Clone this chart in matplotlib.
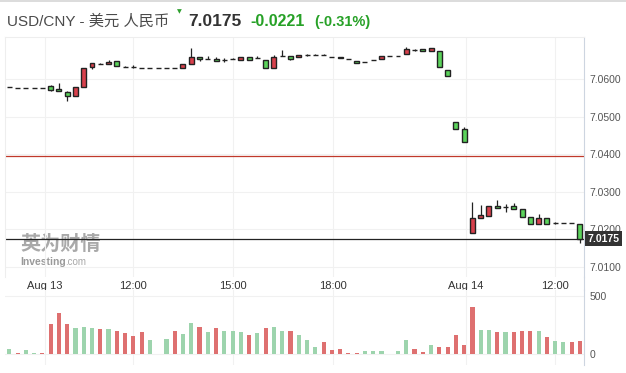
import numpy as np
import matplotlib.pyplot as plt
from matplotlib.lines import Line2D

# 15-minute candles, USD/CNY, Aug 13 - Aug 14
opens = [7.0580, 7.0577, 7.0577, 7.0577, 7.0577, 7.0583, 7.0574, 7.0567, 7.0557, 7.0581,
         7.0633, 7.0641, 7.0641, 7.0649, 7.0634, 7.0633, 7.0631, 7.0631, 7.0631, 7.0631,
         7.0631, 7.0631, 7.0641, 7.0659, 7.0655, 7.0655, 7.0652, 7.0654, 7.0651, 7.0661,
         7.0657, 7.0653, 7.0631, 7.0663, 7.0662, 7.0660, 7.0665, 7.0665, 7.0665, 7.0661,
         7.0661, 7.0654, 7.0650, 7.0647, 7.0651, 7.0655, 7.0663, 7.0663, 7.0667, 7.0679,
         7.0681, 7.0675, 7.0677, 7.0625, 7.0487, 7.0468, 7.0190, 7.0230, 7.0236, 7.0263,
         7.0261, 7.0263, 7.0254, 7.0234, 7.0214, 7.0230, 7.0217, 7.0217, 7.0217, 7.0215]
highs = [7.0581, 7.0577, 7.0577, 7.0577, 7.0577, 7.0585, 7.0591, 7.0568, 7.0581, 7.0630,
         7.0643, 7.0643, 7.0652, 7.0649, 7.0637, 7.0639, 7.0631, 7.0631, 7.0631, 7.0631,
         7.0631, 7.0641, 7.0685, 7.0659, 7.0662, 7.0660, 7.0657, 7.0658, 7.0661, 7.0661,
         7.0663, 7.0653, 7.0665, 7.0679, 7.0662, 7.0665, 7.0668, 7.0667, 7.0668, 7.0661,
         7.0661, 7.0654, 7.0650, 7.0647, 7.0651, 7.0663, 7.0663, 7.0663, 7.0687, 7.0682,
         7.0681, 7.0685, 7.0677, 7.0625, 7.0487, 7.0473, 7.0274, 7.0265, 7.0263, 7.0279,
         7.0268, 7.0271, 7.0254, 7.0234, 7.0241, 7.0230, 7.0219, 7.0217, 7.0217, 7.0215]
lows = [7.0580, 7.0577, 7.0577, 7.0577, 7.0577, 7.0569, 7.0569, 7.0543, 7.0557, 7.0581,
        7.0627, 7.0640, 7.0641, 7.0636, 7.0634, 7.0631, 7.0631, 7.0631, 7.0631, 7.0631,
        7.0631, 7.0631, 7.0641, 7.0650, 7.0655, 7.0650, 7.0646, 7.0654, 7.0651, 7.0653,
        7.0657, 7.0630, 7.0631, 7.0663, 7.0653, 7.0660, 7.0663, 7.0665, 7.0665, 7.0661,
        7.0657, 7.0654, 7.0644, 7.0647, 7.0651, 7.0655, 7.0663, 7.0663, 7.0667, 7.0677,
        7.0675, 7.0675, 7.0633, 7.0609, 7.0467, 7.0433, 7.0190, 7.0230, 7.0236, 7.0257,
        7.0247, 7.0254, 7.0234, 7.0215, 7.0214, 7.0214, 7.0215, 7.0217, 7.0217, 7.0165]
closes = [7.0580, 7.0577, 7.0577, 7.0577, 7.0577, 7.0572, 7.0569, 7.0555, 7.0581, 7.0630,
          7.0643, 7.0641, 7.0646, 7.0636, 7.0634, 7.0633, 7.0631, 7.0631, 7.0631, 7.0631,
          7.0631, 7.0641, 7.0659, 7.0654, 7.0655, 7.0650, 7.0652, 7.0654, 7.0661, 7.0653,
          7.0657, 7.0630, 7.0661, 7.0663, 7.0655, 7.0665, 7.0665, 7.0665, 7.0665, 7.0661,
          7.0657, 7.0654, 7.0644, 7.0647, 7.0651, 7.0663, 7.0663, 7.0663, 7.0681, 7.0679,
          7.0675, 7.0685, 7.0633, 7.0609, 7.0467, 7.0433, 7.0230, 7.0239, 7.0263, 7.0257,
          7.0261, 7.0254, 7.0234, 7.0215, 7.0230, 7.0214, 7.0217, 7.0217, 7.0217, 7.0175]
volumes = [46, 14, 37, 14, 14, 262, 353, 262, 225, 234,
           225, 219, 217, 202, 185, 160, 194, 125, 0, 134,
           202, 177, 268, 237, 191, 225, 202, 202, 194, 168,
           185, 225, 234, 202, 202, 168, 125, 63, 103, 40,
           46, 14, 14, 31, 26, 31, 0, 31, 125, 48,
           17, 83, 66, 60, 168, 83, 408, 211, 211, 194,
           194, 188, 197, 202, 202, 151, 117, 108, 103, 117]
# 1 = volume bar drawn green, 0 = red
vol_up = [1, 0, 1, 1, 0, 0, 0, 0, 1, 1,
          1, 0, 1, 0, 0, 0, 0, 1, 1, 1,
          0, 1, 1, 0, 1, 0, 1, 1, 1, 0,
          1, 0, 1, 1, 0, 1, 1, 1, 0, 0,
          0, 0, 0, 1, 1, 1, 1, 1, 1, 0,
          0, 1, 0, 0, 0, 0, 0, 1, 1, 0,
          1, 0, 0, 0, 1, 0, 1, 1, 0, 0]

time_pos = [4.3, 15.0, 27.05, 39.1, 55.2, 66.0]
time_labels = ['Aug 13', '12:00', '15:00', '18:00', 'Aug 14', '12:00']
price_ticks = [7.01, 7.02, 7.03, 7.04, 7.05, 7.06]
vol_ticks = [0, 500]
prev_close = 7.0396
last_price = 7.0175

W, H = 626, 373
fig = plt.figure(figsize=(W / 100, H / 100), dpi=100)
plt.rcParams['font.family'] = ['Liberation Sans', 'Noto Sans CJK SC', 'DejaVu Sans']


def px_axes(x0, y0, x1, y1):
    return fig.add_axes([x0 / W, 1 - y1 / H, (x1 - x0) / W, (y1 - y0) / H])


RED = '#d8404c'
GREEN = '#5bd35b'
GRID = '#f1f1f1'
LBL = '#555555'

ax = px_axes(5, 37, 584, 277)
axv = px_axes(5, 290, 584, 365)

x = np.arange(len(opens))
o = np.array(opens)
c = np.array(closes)

# candles
ax.vlines(x, lows, highs, color='#222222', lw=0.9, zorder=3)
body_col = [RED if cc > oo else (GREEN if cc < oo else '#222222') for oo, cc in zip(o, c)]
ax.bar(x, np.abs(c - o), bottom=np.minimum(o, c), width=0.6,
       color=body_col, edgecolor='#222222', linewidth=1.0, zorder=4)

ax.axhline(prev_close, color='#c0392b', lw=0.9, zorder=2)
ax.axhline(last_price, color='#222222', lw=0.9, zorder=2)

ax.set_xlim(-0.52, 69.49)
ax.set_ylim(7.00733, 7.07133)
ax.set_yticks(price_ticks)
ax.set_yticklabels(['%.4f' % v for v in price_ticks])
ax.yaxis.tick_right()
ax.tick_params(axis='y', length=0, pad=4, labelsize=7.5, labelcolor=LBL)
ax.set_xticks(time_pos)
ax.set_xticklabels(time_labels)
ax.tick_params(axis='x', length=0, pad=3, labelsize=8, labelcolor='#333333')
ax.grid(True, color=GRID, lw=0.8, zorder=0)
for s in ['left', 'top', 'bottom']:
    ax.spines[s].set_color('#eeeeee')
ax.spines['bottom'].set_visible(False)
ax.spines['right'].set_color('#cdd5e0')

# last price box
ax.text(1.006, last_price, '%.4f' % last_price, transform=ax.get_yaxis_transform(),
        ha='left', va='center', color='white', fontsize=7.5, fontweight='bold', zorder=10,
        bbox=dict(boxstyle='square,pad=0.25', fc='#333333', ec='none'), clip_on=False)

# watermark
ax.text(0.026, 0.113, '英为财情', transform=ax.transAxes, fontsize=14.5, fontweight='bold',
        color='#9a9a9a', alpha=0.85, family=['Noto Sans CJK SC'], zorder=1)
ax.text(0.026, 0.05, 'Investing', transform=ax.transAxes, fontsize=7.5, fontweight='bold',
        color='#9a9a9a', zorder=1)
ax.text(0.1035, 0.05, '.com', transform=ax.transAxes, fontsize=7, color='#a8a8a8', zorder=1)

# volume
vcol = ['#9dd4ad' if u else '#de7070' for u in vol_up]
axv.bar(x, volumes, width=0.5, color=vcol, zorder=3)
axv.set_xlim(-0.52, 69.49)
axv.set_ylim(-90, 551)
axv.set_xticks(time_pos)
axv.set_xticklabels([])
axv.set_yticks(vol_ticks)
axv.yaxis.tick_right()
axv.tick_params(axis='y', length=0, pad=4, labelsize=7.5, labelcolor=LBL)
axv.tick_params(axis='x', length=0)
axv.grid(True, color=GRID, lw=0.8, zorder=0)
for s in ['left', 'top', 'bottom']:
    axv.spines[s].set_visible(False)
axv.spines['right'].set_color('#cdd5e0')

# connect right axis line between the panels
fig.add_artist(Line2D([584 / W, 584 / W], [1 - 290 / H, 1 - 277 / H], color='#cdd5e0', lw=0.8))
fig.add_artist(Line2D([0, 1], [1 - 1 / H, 1 - 1 / H], color='#d5d5d5', lw=1.2))

# header
fig.text(7 / W, 1 - 22 / H, 'USD/CNY - 美元 人民币', fontsize=11, color='#4a4a4a', va='center')
fig.text(179 / W, 1 - 12 / H, '▼', fontsize=4.5, color='#2ea02e', ha='center', va='center',
         family=['DejaVu Sans'])
fig.text(188 / W, 1 - 22 / H, '7.0175', fontsize=12.5, fontweight='bold', color='#333333', va='center')
fig.text(250 / W, 1 - 22 / H, '-0.0221', fontsize=11.5, fontweight='bold', color='#27a127', va='center')
fig.text(314 / W, 1 - 22 / H, '(-0.31%)', fontsize=10.5, fontweight='bold', color='#27a127', va='center')

fig.savefig('out.png', dpi=100)
